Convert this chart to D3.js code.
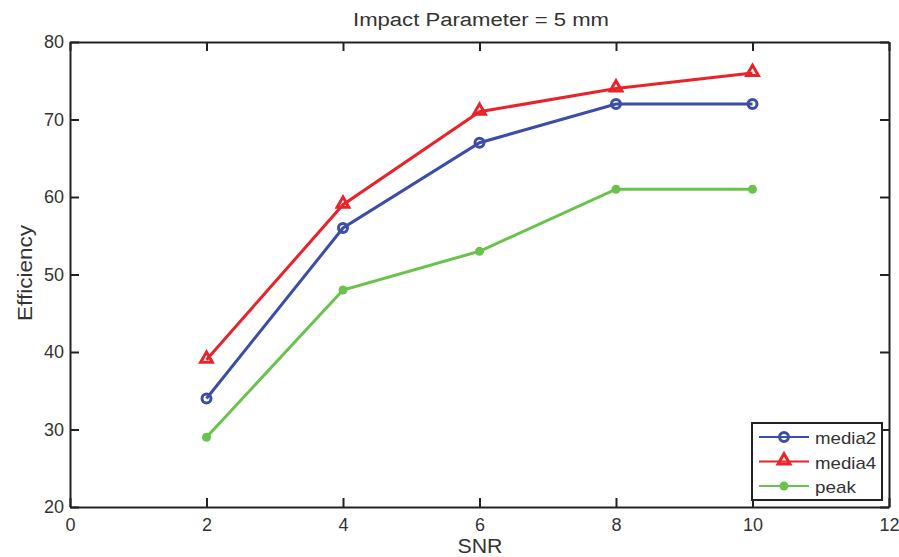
<!DOCTYPE html>
<html>
<head>
<meta charset="utf-8">
<script src="https://cdn.jsdelivr.net/npm/d3@7"></script>
<style>
  body { margin: 0; background: #fff; }
  text { font-family: "Liberation Sans", Arial, sans-serif; fill: #333; }
</style>
</head>
<body>
<svg id="chart" width="899" height="557"></svg>
<script>
// data
var snr = [2, 4, 6, 8, 10];
var media2 = [34, 56, 67, 72, 72];
var media4 = [39, 59, 71, 74, 76];
var peak = [29, 48, 53, 61, 61];
var xTicks = [0, 2, 4, 6, 8, 10, 12];
var yTicks = [20, 30, 40, 50, 60, 70, 80];

var svg = d3.select("#chart");
var plotLeft = 70, plotRight = 889, plotTop = 42, plotBottom = 507;

var x = d3.scaleLinear().domain([0, 12]).range([plotLeft, plotRight]);
var y = d3.scaleLinear().domain([20, 80]).range([plotBottom, plotTop]);

// axes, ticks pointing inward on all four sides
var tick = 9;
svg.append("g").attr("transform", "translate(0," + plotBottom + ")")
  .call(d3.axisBottom(x).tickValues(xTicks).tickSizeInner(-tick).tickSizeOuter(0).tickPadding(11));
svg.append("g").attr("transform", "translate(0," + plotTop + ")")
  .call(d3.axisTop(x).tickValues(xTicks).tickSizeInner(-tick).tickSizeOuter(0).tickFormat(""));
svg.append("g").attr("transform", "translate(" + plotLeft + ",0)")
  .call(d3.axisLeft(y).tickValues(yTicks).tickSizeInner(-tick).tickSizeOuter(0).tickPadding(6));
svg.append("g").attr("transform", "translate(" + plotRight + ",0)")
  .call(d3.axisRight(y).tickValues(yTicks).tickSizeInner(-tick).tickSizeOuter(0).tickFormat(""));

svg.selectAll(".domain").attr("stroke", "#222").attr("stroke-width", 2);
svg.selectAll(".tick line").attr("stroke", "#222").attr("stroke-width", 2);
svg.selectAll(".tick text").style("font-size", "18px").attr("fill", "#333");

// title and axis labels (the original is stretched a bit sideways)
svg.append("text").attr("x", 481).attr("y", 26)
  .attr("text-anchor", "middle").style("font-size", "18px")
  .attr("textLength", 256).attr("lengthAdjust", "spacingAndGlyphs")
  .text("Impact Parameter = 5 mm");
svg.append("text").attr("x", 480).attr("y", 553)
  .attr("text-anchor", "middle").style("font-size", "21px")
  .attr("textLength", 45).attr("lengthAdjust", "spacingAndGlyphs")
  .text("SNR");
svg.append("text").attr("transform", "translate(32,273) rotate(-90)")
  .attr("text-anchor", "middle").style("font-size", "21px")
  .attr("textLength", 96).attr("lengthAdjust", "spacingAndGlyphs")
  .text("Efficiency");

var series = [
  {name: "media2", values: media2, color: "#3b4da6", marker: "circle"},
  {name: "media4", values: media4, color: "#e8232a", marker: "triangle"},
  {name: "peak", values: peak, color: "#69c24b", marker: "dot"}
];

var line = d3.line()
  .x(function(d, i){ return x(snr[i]) })
  .y(function(d){ return y(d) });

function drawMarker(g, type, color, cx, cy) {
  if (type == "circle") {
    g.append("circle").attr("cx", cx).attr("cy", cy).attr("r", 4.5)
      .attr("fill", "none").attr("stroke", color).attr("stroke-width", 3);
  } else if (type == "triangle") {
    g.append("path")
      .attr("d", d3.symbol().type(d3.symbolTriangle).size(60)())
      .attr("transform", "translate(" + cx + "," + (cy - 1) + ")")
      .attr("fill", "none").attr("stroke", color).attr("stroke-width", 3);
  } else {
    g.append("circle").attr("cx", cx).attr("cy", cy).attr("r", 4.5).attr("fill", color);
  }
}

series.forEach(function(s){
  var g = svg.append("g");
  g.append("path").datum(s.values).attr("d", line)
    .attr("fill", "none").attr("stroke", s.color).attr("stroke-width", 3);
  s.values.forEach(function(v, i){ drawMarker(g, s.marker, s.color, x(snr[i]), y(v)) });
});

// legend
var lg = svg.append("g");
lg.append("rect").attr("x", 752).attr("y", 423).attr("width", 130).attr("height", 77)
  .attr("fill", "#fff").attr("stroke", "#222").attr("stroke-width", 2);
series.forEach(function(s, i){
  var ly = 437 + i * 24.5;
  lg.append("line").attr("x1", 759).attr("x2", 809).attr("y1", ly).attr("y2", ly)
    .attr("stroke", s.color).attr("stroke-width", 2);
  drawMarker(lg, s.marker, s.color, 784, ly);
  lg.append("text").attr("x", 815).attr("y", ly + 7).style("font-size", "17px")
    .attr("textLength", s.name.length * 10.2).attr("lengthAdjust", "spacingAndGlyphs")
    .text(s.name);
});
</script>
</body>
</html>
